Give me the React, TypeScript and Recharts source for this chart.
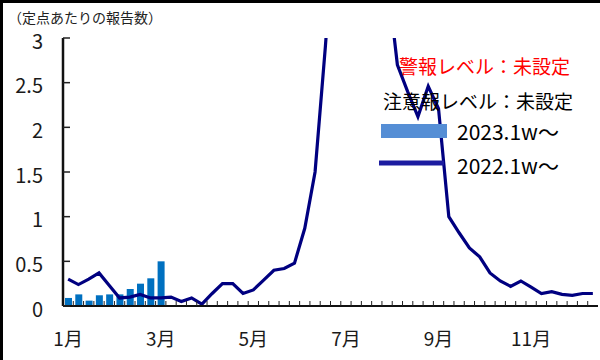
import { ComposedChart, Bar, Line, XAxis, YAxis } from "recharts";

// 週番号（カテゴリ）
const WEEKS = [
  "1", "2", "3", "4", "5", "6", "7", "8", "9", "10", "11", "12", "13",
  "14", "15", "16", "17", "18", "19", "20", "21", "22", "23", "24", "25", "26",
  "27", "28", "29", "30", "31", "32", "33", "34", "35", "36", "37", "38", "39",
  "40", "41", "42", "43", "44", "45", "46", "47", "48", "49", "50", "51", "52",
];

// 2022年 定点あたり報告数（ピーク部分は図の上端より上）
const CASES_2022 = [
  0.3, 0.24, 0.3, 0.37, 0.23, 0.09, 0.1, 0.13, 0.09, 0.09, 0.1, 0.05, 0.09,
  0.02, 0.14, 0.25, 0.25, 0.14, 0.18, 0.29, 0.4, 0.42, 0.48, 0.87, 1.5, 2.9,
  4.5, 5.5, 6.0, 5.2, 4.4, 3.7, 2.7, 2.4, 2.12, 2.46, 2.21, 1.0, 0.82, 0.65,
  0.55, 0.37, 0.28, 0.22, 0.28, 0.21, 0.14, 0.16, 0.13, 0.12, 0.14, 0.14,
];

// 2023年（第1週〜）
const CASES_2023 = [0.09, 0.13, 0.06, 0.12, 0.13, 0.13, 0.19, 0.25, 0.31, 0.5];

const Y_TICKS = [0, 0.5, 1, 1.5, 2, 2.5, 3];

const MONTH_TICKS: Record<string, string> = {
  "1": "1月",
  "10": "3月",
  "19": "5月",
  "28": "7月",
  "37": "9月",
  "46": "11月",
};

const SERIES_2023 = { name: "2023.1w～", color: "#0070C0", legend: "#558ED5" };
const SERIES_2022 = { name: "2022.1w～", color: "#000080", legend: "#1C1CA0" };

const FONT = '"Noto Sans CJK JP", "Noto Sans", sans-serif';
const W = 600;
const H = 360;
const PLOT_LEFT = 63;
const PLOT_RIGHT = 598;
const PLOT_BOTTOM = 306;
const STEP = (PLOT_RIGHT - PLOT_LEFT) / WEEKS.length;

const data = WEEKS.map((week, i) => ({
  week,
  y2022: CASES_2022[i],
  y2023: i < CASES_2023.length ? CASES_2023[i] : null,
}));

// eslint-disable-next-line @typescript-eslint/no-explicit-any
const YTick = ({ y, payload }: any) => (
  <g>
    <line x1={PLOT_LEFT} x2={PLOT_LEFT + 7} y1={y} y2={y} stroke="#222" strokeWidth={1.5} />
    <text
      x={43}
      y={y + 2}
      textAnchor="end"
      dominantBaseline="central"
      fontSize={20}
      fontFamily={FONT}
      fill="#1a1a1a"
    >
      {String(payload.value)}
    </text>
  </g>
);

// eslint-disable-next-line @typescript-eslint/no-explicit-any
const XTick = ({ x, payload }: any) => {
  const label = MONTH_TICKS[payload.value];
  const bx = x - STEP / 2;
  return (
    <g>
      {payload.value !== "1" && (
        <line x1={bx} x2={bx} y1={PLOT_BOTTOM} y2={PLOT_BOTTOM - 5} stroke="#222" strokeWidth={1} />
      )}
      {label && (
        <text x={x} y={346} textAnchor="middle" fontSize={19} fontFamily={FONT} fill="#1a1a1a">
          {label}
        </text>
      )}
    </g>
  );
};

export default function App() {
  return (
    <div style={{ position: "relative", width: W, height: H, background: "#fff" }}>
      <style>{"body{margin:0}"}</style>
      <ComposedChart
        width={W}
        height={H}
        data={data}
        margin={{ top: 38, right: 2, bottom: 0, left: 0 }}
        barCategoryGap={0}
      >
        <XAxis
          dataKey="week"
          height={54}
          interval={0}
          tickLine={false}
          tick={<XTick />}
          axisLine={{ stroke: "#111", strokeWidth: 2 }}
        />
        <XAxis
          xAxisId="top"
          dataKey="week"
          orientation="top"
          height={0}
          tick={false}
          tickLine={false}
          axisLine={{ stroke: "#404040", strokeWidth: 2.5 }}
        />
        <YAxis
          width={63}
          domain={[0, 3]}
          ticks={Y_TICKS}
          allowDataOverflow
          tickLine={false}
          tick={<YTick />}
          axisLine={{ stroke: "#111", strokeWidth: 2.5 }}
        />
        <YAxis
          yAxisId="right"
          orientation="right"
          width={0}
          domain={[0, 3]}
          tick={false}
          tickLine={false}
          axisLine={{ stroke: "#595959", strokeWidth: 2 }}
        />
        <Bar
          dataKey="y2023"
          name={SERIES_2023.name}
          fill={SERIES_2023.color}
          barSize={7}
          isAnimationActive={false}
        />
        <Line
          dataKey="y2022"
          name={SERIES_2022.name}
          type="linear"
          stroke={SERIES_2022.color}
          strokeWidth={3.2}
          dot={false}
          activeDot={false}
          isAnimationActive={false}
        />
      </ComposedChart>

      {/* 見出し・注記・凡例 */}
      <svg
        width={W}
        height={H}
        style={{ position: "absolute", left: 0, top: 0, pointerEvents: "none" }}
        fontFamily={FONT}
      >
        <rect x={0} y={0} width={W} height={3} fill="#000" />
        <rect x={0} y={0} width={3} height={H} fill="#000" />
        <text x={8} y={17} fontSize={14} dominantBaseline="central" fill="#222">
          （定点あたりの報告数）
        </text>
        <text x={399} y={65} fontSize={19} dominantBaseline="central" fill="#FF0000">
          警報レベル：未設定
        </text>
        <text x={383} y={100} fontSize={19} dominantBaseline="central" fill="#000">
          注意報レベル：未設定
        </text>
        <rect x={381} y={124} width={66} height={14} fill={SERIES_2023.legend} />
        <text x={457} y={131} fontSize={21} dominantBaseline="central" fill="#000">
          {SERIES_2023.name}
        </text>
        <line x1={379} x2={444} y1={163} y2={163} stroke={SERIES_2022.legend} strokeWidth={5} />
        <text x={457} y={165} fontSize={21} dominantBaseline="central" fill="#000">
          {SERIES_2022.name}
        </text>
      </svg>
    </div>
  );
}
